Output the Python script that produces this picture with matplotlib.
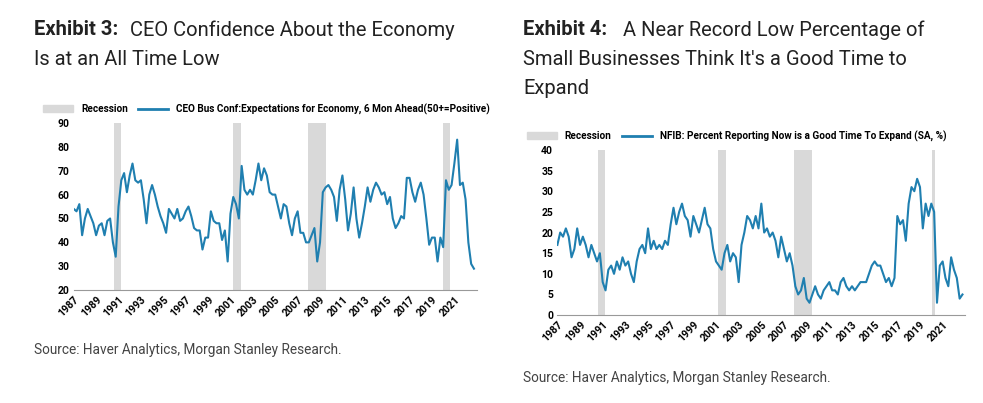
import matplotlib
matplotlib.use("Agg")
import matplotlib.pyplot as plt
import numpy as np

plt.rcParams['font.family'] = ['Roboto', 'DejaVu Sans']

ceo = [54,53,56,43, 50,54,51,48, 43,47,48,43, 49,50,40,34, 55,66,69,61, 68,73,66,65,
       66,58,48,60, 64,60,55,51, 48,44,54,52, 50,54,49,50, 53,55,51,46, 45,45,37,42,
       42,53,49,48, 48,41,45,32, 52,59,56,50, 72,62,60,62, 60,66,73,66, 71,68,61,60,
       60,55,50,56, 55,48,43,50, 53,44,44,40, 40,43,46,32, 40,61,63,64, 62,59,49,62,
       68,58,45,52, 63,50,42,48, 55,63,57,62, 65,63,60,61, 56,59,50,46, 48,51,50,67,
       67,61,57,62, 65,60,50,39, 42,42,32,42, 38,66,62,64, 73,83,64,65, 58,40,31,29]
nfib = [17,20,19,21, 19,14,16,21, 17,19,17,14, 17,15,13,15, 8,6,11,12, 10,13,11,14,
        12,13,10,8, 13,16,17,15, 21,16,18,16, 17,16,18,17, 22,26,22,25, 27,24,23,19,
        24,22,20,23, 26,22,21,16, 13,12,11,15, 17,13,15,14, 8,17,20,24, 23,21,24,21,
        27,20,21,19, 20,18,14,19, 16,13,15,12, 7,5,6,9, 4,3,5,7, 5,4,6,7,
        8,6,6,5, 8,9,7,6, 7,6,7,8, 8,8,10,12, 13,12,12,10, 8,9,7,9,
        24,22,23,18, 27,31,30,33, 31,21,27,24, 27,25,3,12, 13,9,7,14, 11,9,4,5]
rec_left = [(1990.6, 1991.2), (2001.2, 2001.9), (2007.9, 2009.5), (2020.0, 2020.6)]
rec_right = [(1990.6, 1991.2), (2001.2, 2001.9), (2007.9, 2009.5), (2020.1, 2020.3)]
xticks = list(range(1987, 2022, 2))

t = 1987 + np.arange(len(ceo)) * 0.25
LINE = '#1f7fb0'
REC = '#d9d9d9'

fig = plt.figure(figsize=(9.83, 4.03), dpi=100)

def panel(rect, y, recs, ylim, yticks, label):
    ax = fig.add_axes(rect)
    for a, b in recs:
        ax.axvspan(a, b, color=REC, lw=0)
    ax.plot(t, y, color=LINE, lw=1.5)
    ax.set_xlim(1987, 2023)
    ax.set_ylim(*ylim)
    ax.set_yticks(yticks)
    ax.set_xticks(xticks)
    ax.set_xticklabels([str(x) for x in xticks], rotation=45, ha='right', rotation_mode='anchor')
    ax.tick_params(labelsize=7.5, length=0, pad=3)
    for l in ax.get_xticklabels() + ax.get_yticklabels():
        l.set_fontweight('bold')
    for s in ['top', 'right', 'left']:
        ax.spines[s].set_visible(False)
    ax.spines['bottom'].set_color('#999999')
    h1 = plt.Rectangle((0, 0), 1, 1, color=REC)
    h2, = ax.plot([], [], color=LINE, lw=2)
    ax.legend([h1, h2], ['Recession', label], loc='lower left', bbox_to_anchor=(-0.075, 1.05),
              ncol=2, frameon=False, prop={'size': 7.2, 'weight': 'bold'},
              handlelength=3, handleheight=0.7, columnspacing=1.0, borderaxespad=0, borderpad=0)
    return ax

panel([0.075, 0.28, 0.41, 0.415], ceo, rec_left, (20, 90), range(20, 91, 10),
      'CEO Bus Conf:Expectations for Economy, 6 Mon Ahead(50+=Positive)')
panel([0.567, 0.218, 0.415, 0.41], nfib, rec_right, (0, 40), range(0, 41, 5),
      'NFIB: Percent Reporting Now is a Good Time To Expand (SA, %)')

tc = '#222222'
fs = 14.5
fig.text(0.035, 0.95, 'Exhibit 3:', fontsize=fs, fontweight='bold', color=tc, va='top')
fig.text(0.132, 0.95, 'CEO Confidence About the Economy', fontsize=fs, color=tc, va='top')
fig.text(0.035, 0.877, 'Is at an All Time Low', fontsize=fs, color=tc, va='top')
fig.text(0.532, 0.95, 'Exhibit 4:', fontsize=fs, fontweight='bold', color=tc, va='top')
fig.text(0.634, 0.95, 'A Near Record Low Percentage of', fontsize=fs, color=tc, va='top')
fig.text(0.532, 0.877, "Small Businesses Think It's a Good Time to", fontsize=fs, color=tc, va='top')
fig.text(0.532, 0.804, 'Expand', fontsize=fs, color=tc, va='top')
fig.text(0.035, 0.122, 'Source: Haver Analytics, Morgan Stanley Research.', fontsize=9.8, color='#444444')
fig.text(0.532, 0.052, 'Source: Haver Analytics, Morgan Stanley Research.', fontsize=9.8, color='#444444')

fig.savefig('out.png', dpi=100)
